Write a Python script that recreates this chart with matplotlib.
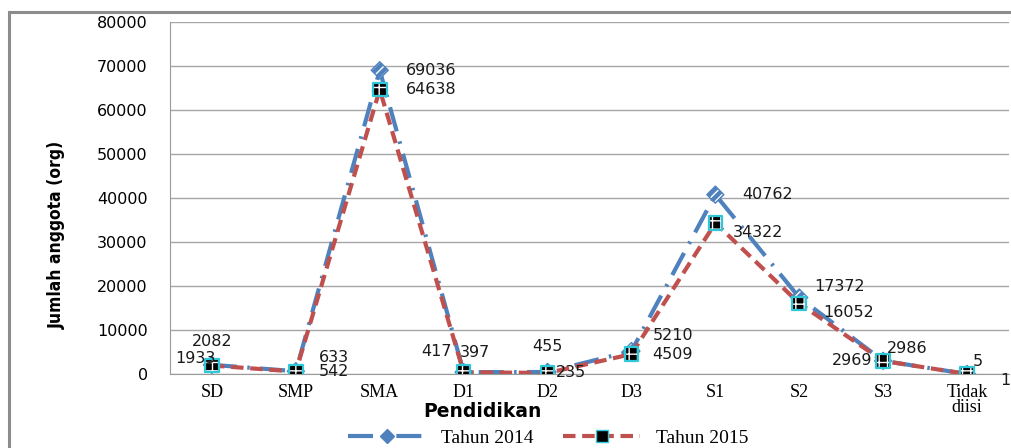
import numpy as np
import matplotlib
matplotlib.use('Agg')
from matplotlib import pyplot as plt
from matplotlib.patches import Rectangle
from matplotlib.lines import Line2D

categories = ['SD', 'SMP', 'SMA', 'D1', 'D2', 'D3', 'S1', 'S2', 'S3', 'Tidak\ndiisi']
tahun_2014 = [2082, 633, 69036, 417, 455, 5210, 40762, 17372, 2986, 5]
tahun_2015 = [1933, 542, 64638, 397, 235, 4509, 34322, 16052, 2969, 1]

# label offsets in pixels (dx, dy, ha)
off_2014 = [(0, 23, 'center'), (23, 14, 'left'), (26, 0, 'left'), (-12, 21, 'right'),
            (0, 25, 'center'), (21, 16, 'left'), (27, 0, 'left'), (15, 11, 'left'),
            (4, 12, 'left'), (6, 12, 'left')]
off_2015 = [(-17, 7, 'center'), (23, 0, 'left'), (26, 0, 'left'), (-4, 20, 'left'),
            (8, 0, 'left'), (21, 0, 'left'), (17, -10, 'left'), (24, -9, 'left'),
            (-11, 0, 'right'), (33, -7, 'left')]

blue = '#4F81BD'
red = '#C0504D'
cyan = '#2FC8D8'

fig = plt.figure(figsize=(10.11, 4.48), dpi=100)
ax = fig.add_axes([170 / 1011, 1 - 374 / 448, 839 / 1011, 352 / 448])

# outer chart frame
fig.add_artist(Rectangle((9 / 1011, -0.1), 1.2, (448 - 12) / 448 + 0.1,
                         transform=fig.transFigure, fill=False,
                         edgecolor='#8C8C8C', linewidth=2.2))

x = np.arange(len(categories))
ax.plot(x, tahun_2014, color=blue, lw=3, dashes=(6, 2.5, 0.6, 2.5), zorder=3)
ax.plot(x, tahun_2015, color=red, lw=3, dashes=(3, 1.6), zorder=4)

# markers: striped diamonds and checkered squares
ax.scatter(x, tahun_2014, marker='D', s=75, facecolor=blue, edgecolor='white',
           hatch='////', linewidth=0.01, zorder=5)
ax.scatter(x, tahun_2014, marker='D', s=75, facecolor='none', edgecolor=blue,
           linewidth=1.0, zorder=5)
ax.scatter(x, tahun_2015, marker='s', s=95, facecolor='black', edgecolor='white',
           hatch='++', linewidth=0.01, zorder=6)
ax.scatter(x, tahun_2015, marker='s', s=95, facecolor='none', edgecolor=cyan,
           linewidth=1.6, zorder=7)

for xi, v, (dx, dy, ha) in zip(x, tahun_2014, off_2014):
    ax.annotate(str(v), (xi, v), xytext=(dx * 0.72, dy * 0.72), textcoords='offset points',
                ha=ha, va='center', fontsize=11.5, color='#1a1a1a', zorder=8)
for xi, v, (dx, dy, ha) in zip(x, tahun_2015, off_2015):
    ax.annotate(str(v), (xi, v), xytext=(dx * 0.72, dy * 0.72), textcoords='offset points',
                ha=ha, va='center', fontsize=11.5, color='#1a1a1a', zorder=8)

ax.set_xlim(-0.5, len(categories) - 0.5)
ax.set_ylim(0, 80000)
ax.set_yticks(np.arange(0, 80001, 10000))
ax.set_yticklabels([str(v) for v in range(0, 80001, 10000)], fontsize=11.5)
ax.set_xticks(x)
ax.set_xticklabels(categories, family='Liberation Serif', fontsize=13, linespacing=0.9)
ax.tick_params(axis='both', length=0, pad=7)
ax.tick_params(axis='y', pad=16)
ax.grid(axis='y', color='#A6A6A6', lw=1)
ax.set_axisbelow(True)
for s in ['top', 'right']:
    ax.spines[s].set_visible(False)
for s in ['left', 'bottom']:
    ax.spines[s].set_color('#9A9A9A')

ax.set_xlabel('Pendidikan', fontsize=13.5, fontweight='bold')
ax.xaxis.set_label_coords((482 - 170) / 839, (374 - 402) / 352)
ax.set_ylabel('Jumlah anggota (org)', fontsize=12.5, fontweight='bold',
              fontstretch='condensed')
ax.yaxis.set_label_coords((66 - 170) / 839, (374 - 235) / 352)

h1 = Line2D([], [], color=blue, lw=3, dashes=(6, 2.5, 0.6, 2.5), marker='D',
            markersize=7, markerfacecolor=blue, markeredgecolor=blue)
h2 = Line2D([], [], color=red, lw=3, dashes=(3, 1.6), marker='s',
            markersize=8, markerfacecolor='black', markeredgecolor=cyan)
fig.legend([h1, h2], ['Tahun 2014', 'Tahun 2015'], ncol=2, frameon=False,
           loc='center', bbox_to_anchor=(548 / 1011, 1 - 438 / 448),
           prop={'family': 'Liberation Serif', 'size': 14},
           handlelength=4.0, columnspacing=1.5)

fig.savefig('out.png', dpi=100)
